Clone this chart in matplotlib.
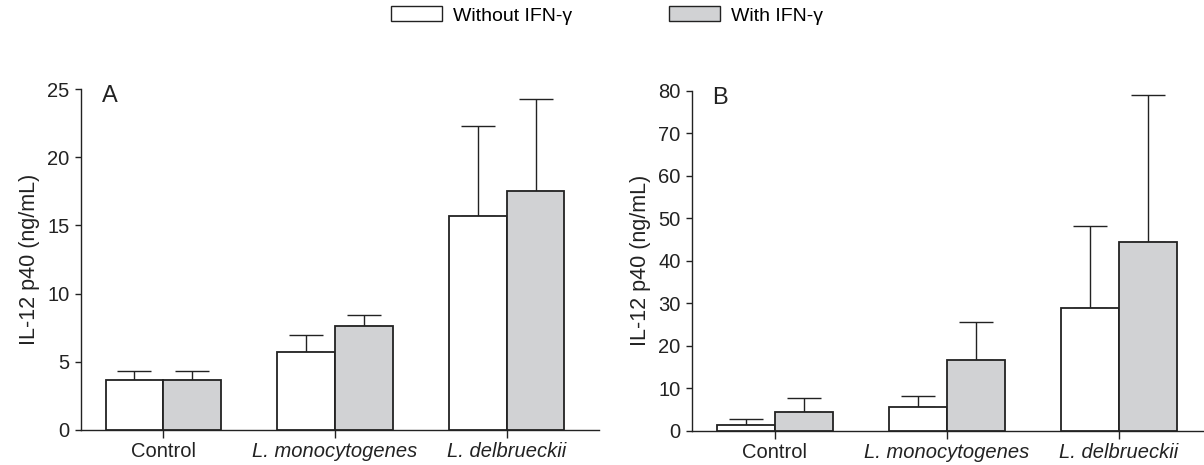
import numpy as np
import matplotlib.pyplot as plt
from matplotlib.patches import Patch

plt.rcParams['font.family'] = ['Liberation Sans', 'DejaVu Sans']

############################################################
# Data
categories = ['Control', 'L. monocytogenes', 'L. delbrueckii']
italic = [False, True, True]

# Panel A
a_without = [3.65, 5.75, 15.7]
a_without_top = [4.3, 6.95, 22.3]
a_with = [3.7, 7.65, 17.5]
a_with_top = [4.35, 8.45, 24.25]

# Panel B
b_without = [1.4, 5.65, 28.8]
b_without_top = [2.65, 8.2, 48.1]
b_with = [4.5, 16.7, 44.3]
b_with_top = [7.6, 25.6, 79.0]

grey = '#d1d2d4'
ink = '#222222'
barw = 0.335


def draw_panel(ax, without, without_top, with_, with_top, ymax, ystep, letter):
    x = np.arange(len(categories))
    ax.bar(x - barw / 2, without, barw, color='white', edgecolor=ink, lw=1.3, zorder=3)
    ax.bar(x + barw / 2, with_, barw, color=grey, edgecolor=ink, lw=1.3, zorder=3)
    # upper error bars only
    for xs, v, t in [(x - barw / 2, without, without_top), (x + barw / 2, with_, with_top)]:
        v = np.array(v)
        err = np.array(t) - v
        ax.errorbar(xs, v, yerr=[np.zeros_like(err), err], fmt='none', ecolor=ink,
                    elinewidth=1.0, capsize=12.3, capthick=1.0, zorder=2)
    ax.set_ylim(0, ymax)
    ax.set_yticks(np.arange(0, ymax + 1, ystep))
    ax.set_xticks(x)
    ax.set_xticklabels(categories)
    for lab, it in zip(ax.get_xticklabels(), italic):
        if it:
            lab.set_style('italic')
    ax.spines['top'].set_visible(False)
    ax.spines['right'].set_visible(False)
    for s in ['left', 'bottom']:
        ax.spines[s].set_linewidth(1.0)
        ax.spines[s].set_color(ink)
    ax.tick_params(axis='both', labelsize=14.5, colors=ink, width=1.0)
    ax.tick_params(axis='y', length=4, pad=4)
    ax.tick_params(axis='x', length=6, pad=3)
    ax.set_ylabel('IL-12 p40 (ng/mL)', fontsize=15.5, color=ink, labelpad=5)
    ax.annotate(letter, xy=(0, 1), xycoords='axes fraction', xytext=(15, 3),
                textcoords='offset points', fontsize=17, va='top', ha='left', color=ink)


fig = plt.figure(figsize=(12.04, 4.65), dpi=100)
axA = fig.add_axes([0.067, 0.0753, 0.4305, 0.7333])
axB = fig.add_axes([0.5745, 0.0739, 0.4255, 0.7310])

draw_panel(axA, a_without, a_without_top, a_with, a_with_top, 25, 5, 'A')
axA.set_xlim(-0.48, 2.536)
draw_panel(axB, b_without, b_without_top, b_with, b_with_top, 80, 10, 'B')
axB.set_xlim(-0.484, 2.494)

handles = [Patch(facecolor='white', edgecolor=ink, lw=1.0),
           Patch(facecolor=grey, edgecolor=ink, lw=1.0)]
fig.legend(handles, ['Without IFN-\u03b3', 'With IFN-\u03b3'], loc='center',
           bbox_to_anchor=(607 / 1204, 1 - 15.5 / 465), ncol=2, frameon=False, fontsize=14,
           handlelength=2.62, handleheight=0.78, handletextpad=0.57, columnspacing=5.0,
           borderpad=0.0)

fig.savefig('out.png', dpi=100)
